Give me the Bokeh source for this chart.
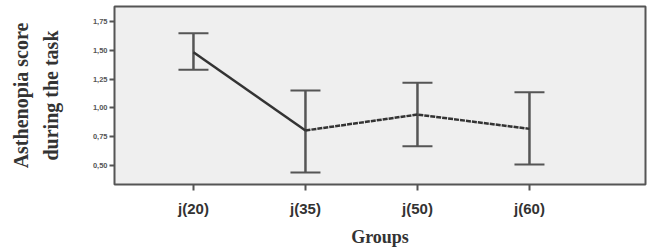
from bokeh.plotting import figure
from bokeh.models import ColumnDataSource, FixedTicker, Whisker
from bokeh.embed import file_html
from bokeh.resources import INLINE

groups = ["j(20)", "j(35)", "j(50)", "j(60)"]
means = [1.486, 0.802, 0.941, 0.816]
upper = [1.652, 1.151, 1.219, 1.136]
lower = [1.332, 0.435, 0.664, 0.504]
y_ticks = [0.50, 0.75, 1.00, 1.25, 1.50, 1.75]

xs = list(range(1, len(groups) + 1))

p = figure(width=656, height=249, output_backend="svg", toolbar_location=None,
           x_range=(0.295, 5.036), y_range=(0.33, 1.885),
           min_border_left=114, min_border_right=11, min_border_top=6, min_border_bottom=65)

p.background_fill_color = "#efefef"
p.border_fill_color = "white"
p.outline_line_color = "#555555"
p.outline_line_width = 2
p.xgrid.visible = False
p.ygrid.visible = False

src = ColumnDataSource(dict(x=xs, m=means, u=upper, l=lower))
wh = Whisker(source=src, base="x", upper="u", lower="l", line_color="#555555", line_width=2.5)
wh.upper_head.size = 30
wh.lower_head.size = 30
wh.upper_head.line_color = "#555555"
wh.lower_head.line_color = "#555555"
wh.upper_head.line_width = 2
wh.lower_head.line_width = 2
p.add_layout(wh)

p.line(xs[:2], means[:2], line_color="#333333", line_width=2.5)
p.line(xs[1:], means[1:], line_color="#333333", line_width=2.5, line_dash="5 1")

# x axis
p.xaxis.ticker = FixedTicker(ticks=xs)
p.xaxis.major_label_overrides = {x: g for x, g in zip(xs, groups)}
p.xaxis.axis_line_color = None
p.xaxis.major_tick_out = 6
p.xaxis.major_tick_in = 0
p.xaxis.major_tick_line_color = "#555555"
p.xaxis.major_tick_line_width = 2
p.xaxis.minor_tick_line_color = None
p.xaxis.major_label_text_font = "Liberation Sans"
p.xaxis.major_label_text_font_style = "bold"
p.xaxis.major_label_text_font_size = "15px"
p.xaxis.major_label_text_color = "#333333"
p.xaxis.major_label_standoff = 9
p.xaxis.axis_label = "Groups"
p.xaxis.axis_label_text_font = "Liberation Serif"
p.xaxis.axis_label_text_font_style = "bold"
p.xaxis.axis_label_text_font_size = "18px"
p.xaxis.axis_label_text_color = "#333333"
p.xaxis.axis_label_standoff = 7

# y axis
p.yaxis.ticker = FixedTicker(ticks=y_ticks)
p.yaxis.major_label_overrides = {t: f"{t:.2f}".replace(".", ",") for t in y_ticks}
p.yaxis.axis_line_color = None
p.yaxis.major_tick_out = 5
p.yaxis.major_tick_in = 0
p.yaxis.major_tick_line_color = "#555555"
p.yaxis.major_tick_line_width = 2
p.yaxis.minor_tick_line_color = None
p.yaxis.major_label_text_font = "Liberation Sans"
p.yaxis.major_label_text_font_style = "bold"
p.yaxis.major_label_text_font_size = "7.5px"
p.yaxis.major_label_text_color = "#555555"
p.yaxis.major_label_standoff = 2
p.yaxis.axis_label = "Asthenopia score\nduring the task"
p.yaxis.axis_label_text_font = "Liberation Serif"
p.yaxis.axis_label_text_font_style = "bold"
p.yaxis.axis_label_text_font_size = "20px"
p.yaxis.axis_label_text_color = "#333333"
p.yaxis.axis_label_text_line_height = 1.35
p.yaxis.axis_label_standoff = 28

open("out.html", "w").write(file_html(p, INLINE))
